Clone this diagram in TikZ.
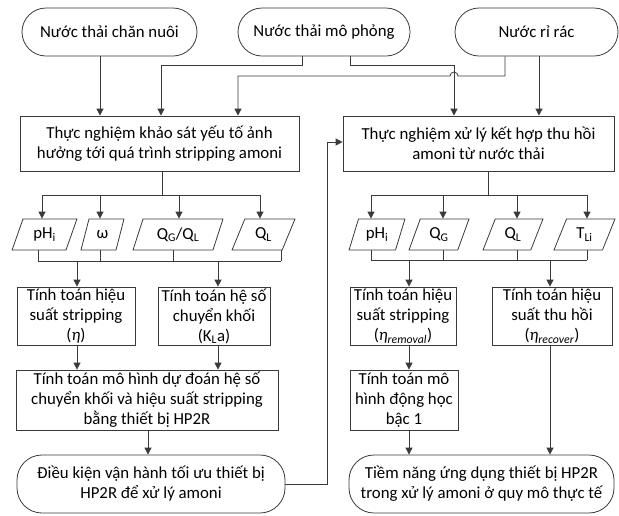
\documentclass[tikz,border=0pt]{standalone}
\usepackage{fontspec}
\setmainfont{Carlito}
\usetikzlibrary{arrows.meta,shapes.geometric,calc}
\definecolor{lc}{HTML}{3A3A3A}
\begin{document}
\begin{tikzpicture}[x=1pt,y=-1pt,
  font=\fontsize{16.8}{20}\selectfont,
  box/.style={draw=lc, line width=0.8pt, rectangle, align=center, inner sep=0pt, text=black},
  term/.style={box, rounded corners=24pt},
  para/.style={draw=lc, line width=0.8pt, trapezium, trapezium left angle=67, trapezium right angle=113,
    trapezium stretches=true, minimum height=31pt, inner sep=0pt, text=black},
  arr/.style={draw=lc, line width=0.8pt, -{Triangle[length=7pt,width=7pt]}},
  ln/.style={draw=lc, line width=0.8pt}]
\useasboundingbox (0,0) rectangle (619,515);

% top terminals
\node[term, minimum width=175pt, minimum height=48pt] (t1) at (109.5,32) {Nước thải chăn nuôi};
\node[term, minimum width=172pt, minimum height=48pt] (t2) at (324,32) {Nước thải mô phỏng};
\node[term, minimum width=163pt, minimum height=48pt] (t3) at (536.5,32) {Nước rỉ rác};

% main boxes
\node[box, minimum width=279pt, minimum height=55pt] (b1) at (159.5,143.5) {Thực nghiệm khảo sát yếu tố ảnh\\hưởng tới quá trình stripping amoni};
\node[box, minimum width=271pt, minimum height=55pt] (b2) at (478.5,143.5) {Thực nghiệm xử lý kết hợp thu hồi\\amoni từ nước thải};

% parallelograms left
\node[para, minimum width=65pt] (l1) at (44.5,234.5) {pH\textsubscript{i}};
\node[para, minimum width=43pt] (l2) at (102.5,234.5) {ω};
\node[para, minimum width=90pt] (l3) at (178,234.5) {Q\textsubscript{G}/Q\textsubscript{L}};
\node[para, minimum width=63pt] (l4) at (263.5,234.5) {Q\textsubscript{L}};

% parallelograms right
\node[para, minimum width=56pt] (r1) at (377,234.5) {pH\textsubscript{i}};
\node[para, minimum width=60pt] (r2) at (439,234.5) {Q\textsubscript{G}};
\node[para, minimum width=60pt] (r3) at (513,234.5) {Q\textsubscript{L}};
\node[para, minimum width=61pt] (r4) at (584.5,234.5) {T\textsubscript{Li}};

% calc boxes
\node[box, minimum width=118pt, minimum height=58pt] (c1) at (76,316) {Tính toán hiệu\\suất stripping\\(\textit{η})};
\node[box, minimum width=112pt, minimum height=58pt] (c2) at (214,316) {Tính toán hệ số\\chuyển khối\\(K\textsubscript{L}a)};
\node[box, minimum width=106pt, minimum height=58pt] (c3) at (403,316) {Tính toán hiệu\\suất stripping\\(\textit{η}\textsubscript{\textit{removal}})};
\node[box, minimum width=120pt, minimum height=58pt] (c4) at (552,316) {Tính toán hiệu\\suất thu hồi\\(\textit{η}\textsubscript{\textit{recover}})};

% model boxes
\node[box, minimum width=262pt, minimum height=60pt] (m1) at (147,400) {Tính toán mô hình dự đoán hệ số\\chuyển khối và hiệu suất stripping\\bằng thiết bị HP2R};
\node[box, minimum width=108pt, minimum height=60pt] (m2) at (404,400) {Tính toán mô\\hình động học\\bậc 1};

% bottom terminals
\node[term, rounded corners=25pt, minimum width=268pt, minimum height=58pt] (e1) at (151,484) {Điều kiện vận hành tối ưu thiết bị\\HP2R để xử lý amoni};
\node[term, rounded corners=25pt, minimum width=265pt, minimum height=58pt] (e2) at (481.5,484) {Tiềm năng ứng dụng thiết bị HP2R\\trong xử lý amoni ở quy mô thực tế};

% top connectors
\draw[arr] (t1.south -| 100,0) -- (b1.north -| 100,0);
\draw[arr] (t2.south -| 302,0) -- (302,65) -- (161,65) -- (b1.north -| 161,0);
\draw[arr] (t2.south -| 350,0) -- (350,65) -- (454,65) -- (b2.north -| 454,0);
\draw[arr] (t3.south -| 505,0) -- (505,76) -- (458,76) arc[start angle=0,end angle=-180,radius=4] -- (238,76) -- (b1.north -| 238,0);
\draw[arr] (t3.south -| 539,0) -- (b2.north -| 539,0);

% box1 to parameters
\draw[ln] (b1.south -| 162,0) -- (162,195);
\draw[ln] (42,195) -- (260,195);
\draw[arr] (42,195) -- (l1.north -| 42,0);
\draw[arr] (100,195) -- (l2.north -| 100,0);
\draw[arr] (179,195) -- (l3.north -| 179,0);
\draw[arr] (260,195) -- (l4.north -| 260,0);

% left parameters to calc
\draw[ln] (l1.south -| 38,0) -- (38,261) -- (281,261);
\draw[ln] (l2.south -| 100,0) -- (100,261);
\draw[ln] (l3.south -| 173,0) -- (173,261);
\draw[ln] (l4.south -| 281,0) -- (281,261);
\draw[arr] (77,261) -- (c1.north -| 77,0);
\draw[arr] (218,261) -- (c2.north -| 218,0);

% box2 to parameters
\draw[ln] (b2.south -| 488,0) -- (488,195);
\draw[ln] (371,195) -- (587,195);
\draw[arr] (371,195) -- (r1.north -| 371,0);
\draw[arr] (443,195) -- (r2.north -| 443,0);
\draw[arr] (517,195) -- (r3.north -| 517,0);
\draw[arr] (587,195) -- (r4.north -| 587,0);

% right parameters to calc
\draw[ln] (r1.south -| 371,0) -- (371,260) -- (587,260);
\draw[ln] (r2.south -| 443,0) -- (443,260);
\draw[ln] (r3.south -| 517,0) -- (517,260);
\draw[ln] (r4.south -| 587,0) -- (587,260);
\draw[arr] (409,260) -- (c3.north -| 409,0);
\draw[arr] (550,260) -- (c4.north -| 550,0);

% calc to models
\draw[arr] (c1.south -| 77,0) -- (m1.north -| 77,0);
\draw[arr] (c2.south -| 218,0) -- (m1.north -| 218,0);
\draw[arr] (c3.south -| 409,0) -- (m2.north -| 409,0);
\draw[arr] (c4.south -| 550,0) -- (e2.north -| 550,0);
\draw[arr] (m1.south -| 148,0) -- (e1.north -| 148,0);
\draw[arr] (m2.south -| 409,0) -- (e2.north -| 409,0);

% feedback connector
\draw[arr] (e1.east) -- (e1.east -| 327,0) -- (327,142) -- (b2.west |- 0,142);
\end{tikzpicture}
\end{document}
